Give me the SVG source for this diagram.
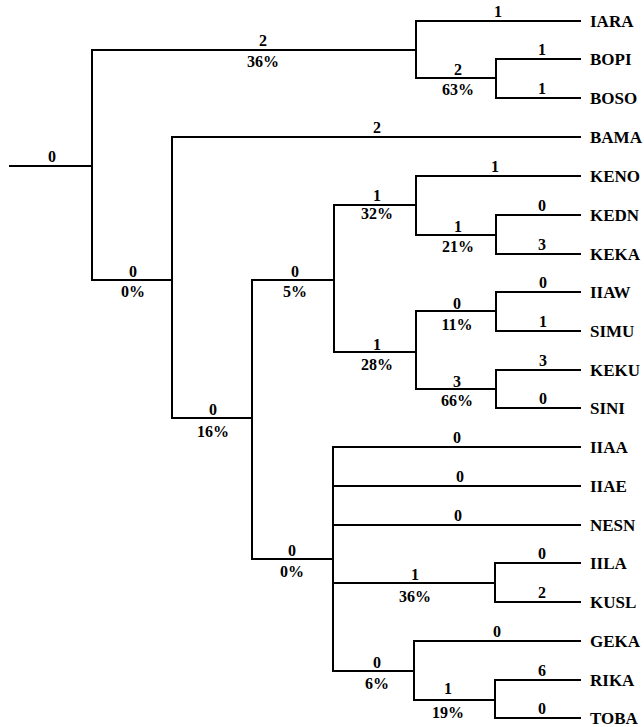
<svg xmlns="http://www.w3.org/2000/svg" width="644" height="727" viewBox="0 0 644 727">
<style>
.e{fill:none;stroke:#000;stroke-width:2;stroke-linecap:square}
.n{font-family:"Liberation Serif","Times New Roman",serif;font-size:16px;font-weight:bold;text-anchor:middle;fill:#000}
.l{font-family:"Liberation Serif","Times New Roman",serif;font-size:17px;font-weight:bold;fill:#000}
</style>
<rect width="644" height="727" fill="#fff"/>
<g id="connectors" class="e">
<path d="M10,166H92M92,50V280"/>
<path d="M92,50H416M416,21V78M416,21H580M416,78H496M496,59V98M496,59H580M496,98H580"/>
<path d="M92,280H172M172,137V418M172,137H580"/>
<path d="M172,418H252M252,280V559"/>
<path d="M252,280H334M334,205V352"/>
<path d="M334,205H416M416,176V235M416,176H580M416,235H496M496,215V254M496,215H580M496,254H580"/>
<path d="M334,352H416M416,311V389M416,311H496M496,292V331M496,292H580M496,331H580M416,389H496M496,370V408M496,370H580M496,408H580"/>
<path d="M252,559H333M333,447V671M333,447H580M333,486H580M333,525H580"/>
<path d="M333,583H495M495,563V602M495,563H580M495,602H580"/>
<path d="M333,671H414M414,641V700M414,641H580M414,700H495M495,680V718M495,680H580M495,718H580"/>
</g>
<g id="root"><text class="n" x="52" y="162">0</text></g>
<g id="n-top"><text class="n" x="263" y="46">2</text><text class="n" x="263" y="67">36%</text></g>
<g id="n-bopi-boso"><text class="n" x="458" y="75">2</text><text class="n" x="458" y="95">63%</text></g>
<g id="n-lower"><text class="n" x="133" y="277">0</text><text class="n" x="133" y="297">0%</text></g>
<g id="n-16"><text class="n" x="213" y="415">0</text><text class="n" x="213" y="437">16%</text></g>
<g id="n-5"><text class="n" x="295" y="277">0</text><text class="n" x="295" y="297">5%</text></g>
<g id="n-32"><text class="n" x="377" y="201">1</text><text class="n" x="377" y="219">32%</text></g>
<g id="n-21"><text class="n" x="458" y="232">1</text><text class="n" x="458" y="252">21%</text></g>
<g id="n-28"><text class="n" x="377" y="350">1</text><text class="n" x="377" y="370">28%</text></g>
<g id="n-11"><text class="n" x="457" y="309">0</text><text class="n" x="457" y="330">11%</text></g>
<g id="n-66"><text class="n" x="457" y="387">3</text><text class="n" x="457" y="406">66%</text></g>
<g id="n-0b"><text class="n" x="292" y="556">0</text><text class="n" x="292" y="577">0%</text></g>
<g id="n-36b"><text class="n" x="415" y="580">1</text><text class="n" x="415" y="602">36%</text></g>
<g id="n-6"><text class="n" x="377" y="668">0</text><text class="n" x="377" y="689">6%</text></g>
<g id="n-19"><text class="n" x="448" y="694">1</text><text class="n" x="448" y="718">19%</text></g>
<g id="IARA"><text class="n" x="498" y="17">1</text><text class="l" x="590" y="27">IARA</text></g>
<g id="BOPI"><text class="n" x="542" y="55">1</text><text class="l" x="590" y="65">BOPI</text></g>
<g id="BOSO"><text class="n" x="542" y="94">1</text><text class="l" x="590" y="104">BOSO</text></g>
<g id="BAMA"><text class="n" x="377" y="133">2</text><text class="l" x="590" y="143">BAMA</text></g>
<g id="KENO"><text class="n" x="495" y="172">1</text><text class="l" x="590" y="182">KENO</text></g>
<g id="KEDN"><text class="n" x="542" y="211">0</text><text class="l" x="590" y="221">KEDN</text></g>
<g id="KEKA"><text class="n" x="542" y="250">3</text><text class="l" x="590" y="260">KEKA</text></g>
<g id="IIAW"><text class="n" x="543" y="288">0</text><text class="l" x="590" y="298">IIAW</text></g>
<g id="SIMU"><text class="n" x="543" y="327">1</text><text class="l" x="590" y="337">SIMU</text></g>
<g id="KEKU"><text class="n" x="543" y="366">3</text><text class="l" x="590" y="376">KEKU</text></g>
<g id="SINI"><text class="n" x="543" y="404">0</text><text class="l" x="590" y="414">SINI</text></g>
<g id="IIAA"><text class="n" x="457" y="443">0</text><text class="l" x="590" y="453">IIAA</text></g>
<g id="IIAE"><text class="n" x="460" y="482">0</text><text class="l" x="590" y="492">IIAE</text></g>
<g id="NESN"><text class="n" x="458" y="521">0</text><text class="l" x="590" y="531">NESN</text></g>
<g id="IILA"><text class="n" x="542" y="559">0</text><text class="l" x="590" y="569">IILA</text></g>
<g id="KUSL"><text class="n" x="542" y="598">2</text><text class="l" x="590" y="608">KUSL</text></g>
<g id="GEKA"><text class="n" x="497" y="637">0</text><text class="l" x="590" y="647">GEKA</text></g>
<g id="RIKA"><text class="n" x="542" y="676">6</text><text class="l" x="590" y="686">RIKA</text></g>
<g id="TOBA"><text class="n" x="542" y="714">0</text><text class="l" x="590" y="724">TOBA</text></g>
</svg>
